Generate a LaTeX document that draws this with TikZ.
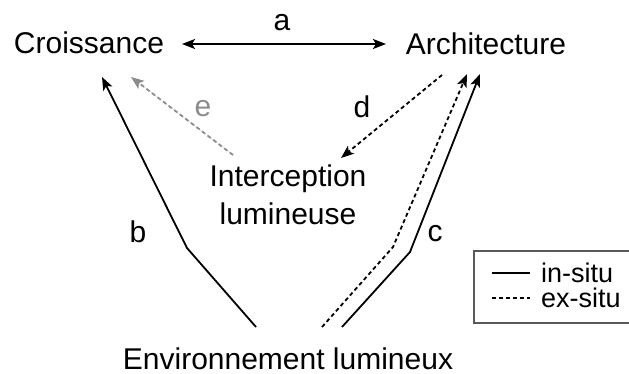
\documentclass[tikz,border=0pt]{standalone}
\usepackage{fontspec}
\setmainfont{Liberation Sans}
\usetikzlibrary{arrows.meta}
\begin{document}
\begin{tikzpicture}[x=1pt,y=-1pt,
  lbl/.style={font=\fontsize{30}{36}\selectfont, anchor=base, inner sep=0pt},
  leg/.style={font=\fontsize{27}{30}\selectfont, anchor=base west, inner sep=0pt},
  conn/.style={line width=1.8pt, -{Stealth[length=13pt,width=10pt,inset=3pt]}},
  dconn/.style={conn, dash pattern=on 4pt off 3pt},
  plain/.style={line width=1.8pt},
  dplain/.style={line width=1.8pt, dash pattern=on 4pt off 3pt}]
\useasboundingbox (0,0) rectangle (629,374);
% texts
\node[lbl] (cro) at (89,54) {Croissance};
\node[lbl] (arc) at (486,55) {Architecture};
\node[lbl] (la) at (282,31) {a};
\node[lbl, text=black!45] (le) at (203,117) {e};
\node[lbl] (ld) at (362,118) {d};
\node[lbl] (lb) at (138,243) {b};
\node[lbl] (lc) at (435,241) {c};
\node[lbl] (int1) at (288,187) {Interception};
\node[lbl] (int2) at (288,225) {lumineuse};
\node[lbl] (env) at (288,369) {Environnement lumineux};
% anchor points
\coordinate (aL) at (182,44);
\coordinate (aR) at (386,44);
\coordinate (bS) at (256,327);
\coordinate (bM) at (187,248);
\coordinate (bT) at (102,77);
\coordinate (eS) at (233,155);
\coordinate (eT) at (131,77);
\coordinate (dS) at (442,75);
\coordinate (dT) at (341,158);
\coordinate (xS) at (322,327);
\coordinate (xM) at (393,247);
\coordinate (xT) at (467,74);
\coordinate (iS) at (342,327);
\coordinate (iM) at (410,252);
\coordinate (iT) at (480,74);
% connectors
\draw[line width=1.8pt, {Stealth[length=13pt,width=10pt,inset=3pt]}-{Stealth[length=13pt,width=10pt,inset=3pt]}] (aL) -- (aR);
\draw[conn] (bS) -- (bM) -- (bT);
\draw[dconn, draw=black!45, fill=black!45] (eS) -- (eT);
\draw[dconn] (dS) -- (dT);
\draw[dconn] (xS) -- (xM) -- (xT);
\draw[conn] (iS) -- (iM) -- (iT);
% legend
\node[draw=black!65, line width=1.5pt, minimum width=170pt, minimum height=72pt, anchor=north west, inner sep=0pt] (legbox) at (473,250) {};
\coordinate (l1a) at (492,273);
\coordinate (l1b) at (530,273);
\coordinate (l2a) at (492,298);
\coordinate (l2b) at (530,298);
\draw[plain] (l1a) -- (l1b);
\draw[dplain] (l2a) -- (l2b);
\node[leg] (lin) at (541,282) {in-situ};
\node[leg] (lex) at (541,307) {ex-situ};
\end{tikzpicture}
\end{document}
